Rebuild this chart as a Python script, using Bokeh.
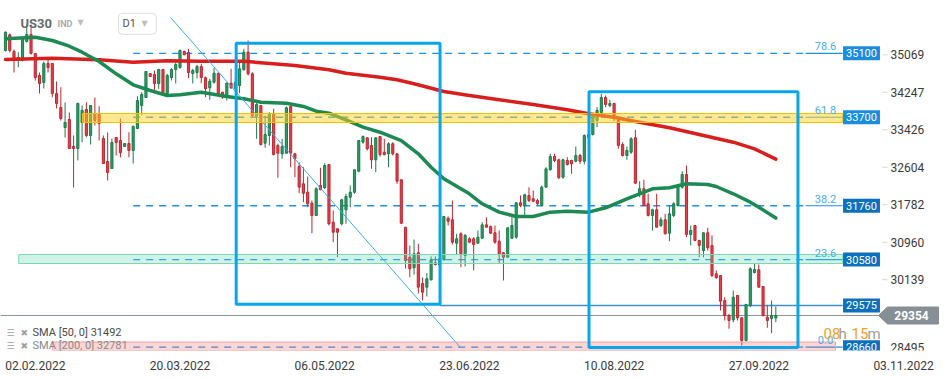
import numpy as np
from bokeh.plotting import figure
from bokeh.models import Range1d, FixedTicker, Label, ColumnDataSource
from bokeh.embed import file_html
from bokeh.resources import INLINE

# ---------------- data ----------------
opens = [35163, 35507, 35141, 34944, 34944, 35360, 35514, 35097, 34615, 34462,
         34878, 34878, 34220, 33914, 33475, 33650, 33059, 33015, 33585, 33870,
         33300, 33782, 33760, 33234, 32730, 32576, 33256, 33190, 33059, 33124,
         32971, 33453, 33957, 34133, 34659, 34637, 34440, 34747, 34220, 34571,
         34747, 34790, 35141, 35119, 34659, 34681, 34812, 34565, 34345, 34468,
         34665, 34249, 34139, 34446, 34330, 34396, 34740, 35126, 34652, 33716,
         33957, 33131, 33300, 33760, 33081, 32899, 32912, 33935, 32899, 32620,
         32241, 32057, 31816, 31546, 32204, 32153, 32664, 31399, 31255, 31364,
         31671, 31947, 32057, 32517, 33153, 33249, 33081, 32767, 33278, 32934,
         32899, 33118, 32899, 32329, 31290, 30632, 30400, 30729, 30056, 29975,
         30137, 30509, 30460, 30575, 31487, 31452, 30939, 31145, 30669, 31035,
         31035, 30939, 31049, 31342, 31305, 31167, 30983, 30729, 30632, 31049,
         31071, 31825, 31765, 31985, 31912, 31875, 31765, 32167, 32548, 32839,
         32767, 32386, 32752, 32752, 32736, 32861, 32736, 33256, 33322, 33629,
         33804, 34133, 33957, 34001, 33629, 33102, 32861, 32934, 33249, 32022,
         32132, 31803, 31546, 31671, 31327, 31452, 31158, 31546, 31765, 32167,
         32445, 31130, 31327, 30998, 30779, 31167, 30889, 30268, 30231, 29683,
         29354, 29260, 29793, 29304, 28806, 29573, 30297, 30356, 29990, 29317,
         29288, 29299]
highs = [35580, 35536, 35185, 35126, 35455, 35733, 35733, 35097, 34681, 34922,
         34988, 34878, 34483, 34358, 34023, 33804, 33300, 34023, 33957, 34030,
         33957, 34133, 33942, 33300, 33366, 33234, 33262, 33672, 33124, 33372,
         33519, 34161, 34249, 34703, 34659, 34725, 34762, 34762, 34652, 34775,
         34900, 35185, 35163, 35200, 34762, 34849, 34871, 34593, 34543, 34784,
         34665, 34249, 34468, 34762, 34549, 34907, 35200, 35382, 34687, 34030,
         33957, 33738, 33811, 33885, 33118, 33227, 33935, 33935, 32912, 32714,
         32605, 32401, 31875, 32167, 32592, 32693, 32664, 31656, 31255, 31912,
         32022, 32204, 32548, 33190, 33300, 33262, 33262, 33262, 33278, 33227,
         33153, 33153, 32899, 32329, 31290, 30889, 31020, 30926, 30187, 30281,
         30648, 30648, 30680, 31524, 31524, 31875, 31145, 31180, 31145, 31071,
         31071, 31217, 31399, 31509, 31327, 31327, 31217, 30742, 31277, 31509,
         31838, 31985, 32022, 32167, 32094, 31912, 32204, 32605, 32899, 32899,
         32789, 32789, 32824, 32767, 33059, 32899, 33322, 33409, 33760, 33920,
         34214, 34177, 34082, 34008, 33666, 33153, 33059, 33262, 33425, 32298,
         32329, 32022, 31693, 32022, 31509, 31583, 31765, 31838, 32204, 32517,
         32642, 31327, 31327, 31013, 31180, 31277, 31108, 30341, 30231, 29755,
         29391, 29902, 29793, 29310, 29611, 30413, 30494, 30472, 29990, 29573,
         29683, 29551]
lows = [35140, 35119, 34681, 34797, 34922, 35338, 35075, 34505, 34220, 34330,
        34681, 34139, 33892, 33629, 33256, 33008, 32160, 32752, 33153, 33262,
        33102, 33519, 33190, 32686, 32313, 32576, 32861, 32818, 33059, 32824,
        32686, 33447, 33738, 34133, 34593, 34286, 34323, 34214, 34177, 34505,
        34440, 34762, 35053, 34556, 34440, 34550, 34446, 34139, 34082, 34433,
        34177, 34104, 34067, 34323, 34242, 34227, 34725, 34615, 33701, 33227,
        33081, 33030, 33081, 32861, 32373, 32789, 32899, 32605, 32386, 32035,
        31838, 31728, 31158, 31546, 32109, 32132, 31327, 30961, 30632, 31327,
        31364, 31728, 32022, 32495, 33118, 32971, 32570, 32495, 32839, 32861,
        32605, 32861, 32241, 31364, 30384, 30194, 30250, 29836, 29683, 29771,
        30121, 30450, 30400, 30560, 31327, 30911, 30691, 30413, 30428, 30939,
        30341, 30926, 31035, 31290, 31145, 30926, 30501, 30121, 30632, 31035,
        31035, 31728, 31546, 31838, 31838, 31765, 31765, 32167, 32533, 32714,
        32351, 32351, 32642, 32460, 32714, 32679, 32664, 33190, 33300, 33482,
        33782, 33920, 33920, 33613, 33008, 32839, 32767, 32899, 32241, 31947,
        31765, 31524, 31217, 31290, 31290, 31130, 30983, 31509, 31743, 32132,
        31071, 30889, 30983, 30632, 30632, 30779, 30194, 30159, 29464, 29245,
        29063, 29207, 29245, 28697, 28784, 29536, 30275, 29975, 29332, 29085,
        28966, 29207]
closes = [35564, 35163, 34944, 35010, 35426, 35514, 35097, 34571, 34440, 34878,
          34790, 34220, 34001, 33672, 33585, 33015, 33015, 34001, 33848, 33300,
          33957, 33629, 33563, 32686, 32489, 33146, 33146, 32927, 33124, 32971,
          33497, 34067, 34199, 34703, 34593, 34440, 34747, 34242, 34615, 34747,
          34856, 35163, 35075, 34681, 34725, 34812, 34571, 34323, 34490, 34665,
          34214, 34139, 34446, 34345, 34462, 34762, 35126, 34652, 33738, 33979,
          33102, 33322, 33760, 32883, 32912, 33059, 33907, 32912, 32789, 32167,
          32035, 31803, 31546, 32132, 32109, 32642, 31364, 31180, 31180, 31890,
          31963, 32057, 32548, 33190, 33278, 33008, 32767, 33249, 32883, 32883,
          33118, 32899, 32298, 31377, 30560, 30378, 30707, 29975, 29865, 30159,
          30575, 30472, 30600, 31524, 31421, 30961, 31035, 30707, 31108, 30961,
          30911, 31071, 31342, 31290, 31158, 30961, 30691, 30632, 31277, 31327,
          31825, 31765, 32000, 31875, 31860, 31803, 32167, 32570, 32839, 32752,
          32373, 32767, 32664, 32679, 32861, 32736, 33300, 33322, 33738, 33848,
          34133, 33979, 34001, 33666, 33081, 32861, 32971, 33227, 32254, 32132,
          31765, 31546, 31671, 31290, 31452, 31145, 31583, 31803, 32182, 32445,
          31130, 31217, 30998, 30889, 31167, 30838, 30231, 30181, 29668, 29354,
          29245, 29755, 29304, 28806, 29595, 30378, 30363, 29975, 29354, 29245,
          29354, 29354]

sma50_idx = [0, 7, 11, 15, 18, 22, 26, 30, 34, 38, 41, 46, 52, 56, 60, 66, 70, 73,
             76, 80, 84, 88, 93, 97, 100, 103, 109, 112, 116, 120, 124, 128, 132,
             137, 141, 146, 152, 156, 160, 165, 167, 171, 175, 177, 181]
sma50_val = [35420, 35455, 35382, 35257, 35126, 34922, 34652, 34411, 34286, 34177,
             34192, 34249, 34155, 34104, 34030, 34008, 33936, 33832, 33789, 33644,
             33482, 33372, 33190, 32898, 32605, 32351, 32022, 31803, 31619, 31524,
             31524, 31619, 31641, 31619, 31715, 31912, 32132, 32153, 32241, 32226,
             32182, 32022, 31838, 31728, 31492]
sma200_idx = [0, 11, 22, 30, 38, 46, 56, 60, 68, 76, 80, 88, 92, 96, 103, 109, 116,
              124, 132, 137, 143, 148, 156, 163, 171, 176, 181]
sma200_val = [34966, 34994, 34959, 34907, 34937, 34928, 34928, 34893, 34834, 34740,
              34665, 34578, 34521, 34433, 34264, 34177, 34082, 33979, 33863, 33775,
              33701, 33607, 33469, 33322, 33153, 33008, 32781]

date_labels = ["02.02.2022", "20.03.2022", "06.05.2022", "23.06.2022",
               "10.08.2022", "27.09.2022", "03.11.2022"]
date_ticks = [7, 41, 75, 109, 143, 177, 211]

price_ticks = [35069, 34247, 33426, 32604, 31782, 30960, 30139]
bottom_tick = 28495

fib_prices = [35100, 33700, 31760, 30580, 28660]
fib_ratios = ["78.6", "61.8", "38.2", "23.6", "0.0"]
fib_start, fib_dash_end, level_end = 30, 188, 196.7

level_line = 29575
last_price = 29354
sma50_last, sma200_last = 31492, 32781

zone_lo = [33585, 30494, 28587]
zone_hi = [33782, 30691, 28773]
zone_start = [18.1, 3.1, 11.0]
zone_end = [196.7, 196.7, 195.0]

box_left = [54.2, 137.1]
box_right = [102.1, 186.2]
box_top = [35321, 34258]
box_bottom = [29600, 28653]

trend_x = [38.8, 106.9]
trend_y = [35886, 28653]

# ---------------- layout helpers (screen px -> data) ----------------
PX0, PXS = 5.0, 4.256
P_TOP, P_PX = 36259.0, 21.92
W, H, FRAME_H = 949, 378, 350


def xi(px):
    return (px - PX0) / PXS


def yp(py):
    return P_TOP - P_PX * py


GREEN, GREEN_L = "#2E9D68", "#1B7A4A"
RED, RED_L = "#E6414B", "#BE2630"
BLUE_BOX = "#07A6EF"
FIB = "#1E8FEA"

p = figure(width=W, height=H, output_backend="svg", toolbar_location=None,
           x_range=Range1d(xi(0), xi(W)), y_range=Range1d(yp(FRAME_H), yp(0)),
           y_axis_location=None, min_border=0, min_border_bottom=H - FRAME_H)
p.outline_line_color = None
p.grid.visible = False
p.background_fill_color = "white"
p.border_fill_color = "white"

ax = p.xaxis[0]
ax.ticker = FixedTicker(ticks=date_ticks)
ax.major_label_overrides = {t: s for t, s in zip(date_ticks, date_labels)}
ax.axis_line_color = None
ax.major_tick_line_color = None
ax.minor_tick_line_color = None
ax.major_label_standoff = 4
ax.major_label_text_font = "Roboto"
ax.major_label_text_font_size = "12px"
ax.major_label_text_color = "#3a3a3a"

# fib lines
for fp in fib_prices:
    p.segment(x0=fib_start, y0=fp, x1=fib_dash_end, y1=fp, line_color=FIB,
              line_width=1.3, line_dash="7 6")
    p.segment(x0=fib_dash_end, y0=fp, x1=level_end, y1=fp, line_color=FIB,
              line_width=1.2)

# last price and 29575 lines
p.segment(x0=xi(0), y0=last_price, x1=xi(879), y1=last_price,
          line_color="#8C959A", line_width=1)
p.segment(x0=box_right[0], y0=level_line, x1=level_end, y1=level_line,
          line_color="#3C8FD2", line_width=1.5)

# candles
o = np.array(opens); c = np.array(closes); h = np.array(highs); l = np.array(lows)
idx = np.arange(len(o))
for mask, fc, lc in [(c >= o, GREEN, GREEN_L), (c < o, RED, RED_L)]:
    src = ColumnDataSource(dict(x=idx[mask], top=np.maximum(o, c)[mask],
                                bottom=np.minimum(o, c)[mask], h=h[mask], l=l[mask]))
    p.segment(x0="x", y0="h", x1="x", y1="l", source=src, line_color=lc, line_width=1)
    p.vbar(x="x", width=0.5, top="top", bottom="bottom", source=src,
           fill_color=fc, line_color=lc, line_width=1)

# moving averages
p.line(sma200_idx, sma200_val, line_color="#D91E1E", line_width=3.5,
       line_join="round", line_cap="round")
p.line(sma50_idx, sma50_val, line_color="#1C8A52", line_width=3.5,
       line_join="round", line_cap="round")

# trend line
p.line(trend_x, trend_y, line_color="#35AEEB", line_width=1)

# zones (semi-transparent, above candles)
zone_fill = ["#FFD21F", "#5FD9AE", "#EE6B6B"]
zone_fa = [0.5, 0.3, 0.28]
zone_line = ["#F2C200", "#7FD6B4", "#F2A0A0"]
for i in range(3):
    p.quad(left=zone_start[i], right=zone_end[i], bottom=zone_lo[i], top=zone_hi[i],
           fill_color=zone_fill[i], fill_alpha=zone_fa[i], line_color=zone_line[i],
           line_width=1)

# blue boxes
p.quad(left=box_left, right=box_right, top=box_top, bottom=box_bottom,
       fill_color=None, line_color=BLUE_BOX, line_width=3)

# right price scale
for t in price_ticks:
    p.segment(x0=xi(882), y0=t, x1=xi(887), y1=t, line_color="#d5d5d5", line_width=1)
    p.add_layout(Label(x=xi(890), y=t, text=str(t), text_align="left",
                       text_baseline="middle", text_font="Roboto",
                       text_font_size="12px", text_color="#3a3a3a"))
p.add_layout(Label(x=xi(890), y=bottom_tick, y_offset=7, text=str(bottom_tick),
                   text_align="left", text_baseline="middle", text_font="Roboto",
                   text_font_size="12px", text_color="#3a3a3a"))

# level boxes
levels = fib_prices[:4] + [level_line] + fib_prices[4:]
level_cols = ["#1A8DE2", "#1A8DE2", "#0C70BF", "#0C70BF", "#0C70BF", "#0C70BF"]
for lv, col in zip(levels, level_cols):
    p.add_layout(Label(x=xi(861), y=lv, text=str(lv), text_align="center",
                       text_baseline="middle", text_font="Roboto",
                       text_font_size="11px", text_color="white",
                       background_fill_color=col, padding=3))

# fib ratio texts
for fp, r in zip(fib_prices, fib_ratios):
    p.add_layout(Label(x=xi(825), y=fp, y_offset=3, text=r, text_align="center",
                       text_baseline="bottom", text_font="Roboto",
                       text_font_size="11px", text_color="#45AEF0"))

# current price tag
gx = [xi(878), xi(887), xi(938), xi(938), xi(887)]
gy = [last_price, last_price + 8.5 * P_PX, last_price + 8.5 * P_PX,
      last_price - 8.5 * P_PX, last_price - 8.5 * P_PX]
p.patch(gx, gy, fill_color="#858F94", line_color="#858F94")
p.add_layout(Label(x=xi(911), y=last_price, text=str(last_price), text_align="center",
                   text_baseline="middle", text_font="Roboto", text_font_size="12px",
                   text_font_style="bold", text_color="white"))

# countdown
for px, txt, col in [(823, "08", "#F5A11E"), (838, "h", "#9E9E9E"),
                     (851, "15", "#F5A11E"), (867, "m", "#9E9E9E")]:
    p.add_layout(Label(x=xi(px), y=yp(333), text=txt, text_align="left",
                       text_baseline="middle", text_font="Roboto",
                       text_font_size="15px", text_color=col))

# SMA legend
for py, txt, col in [(332, f"SMA [50,  0] {sma50_last}", "#4a4a4a"),
                     (345, f"SMA [200,  0] {sma200_last}", "#8a8a8a")]:
    p.add_layout(Label(x=xi(6), y=yp(py), text="\u2630", text_align="left",
                       text_baseline="middle", text_font="DejaVu Sans",
                       text_font_size="9px", text_color="#a0a0a0"))
    p.add_layout(Label(x=xi(20), y=yp(py), text="\u2716", text_align="left",
                       text_baseline="middle", text_font="DejaVu Sans",
                       text_font_size="9px", text_color="#a0a0a0"))
    p.add_layout(Label(x=xi(32), y=yp(py), text=txt, text_align="left",
                       text_baseline="middle", text_font="Roboto",
                       text_font_size="11px", text_color=col))

# header
p.add_layout(Label(x=xi(20), y=yp(23), text="US30", text_align="left",
                   text_baseline="middle", text_font="Roboto", text_font_size="13px",
                   text_font_style="bold", text_color="#6a6a6a"))
p.add_layout(Label(x=xi(57), y=yp(23.5), text="IND", text_align="left",
                   text_baseline="middle", text_font="Roboto", text_font_size="9px",
                   text_font_style="bold", text_color="#ababab"))
p.add_layout(Label(x=xi(77), y=yp(21.5), text="\u25BC", text_align="left",
                   text_baseline="middle", text_font="DejaVu Sans",
                   text_font_size="8px", text_color="#bdbdbd"))
p.add_layout(Label(x=xi(118), y=yp(23.3), text="D1      ", text_align="left",
                   text_baseline="middle", text_font="Roboto", text_font_size="11px",
                   text_color="#555555", background_fill_color="white",
                   border_line_color="#dddddd", border_radius=4, padding=4))
p.add_layout(Label(x=xi(141), y=yp(22.5), text="\u25BC", text_align="left",
                   text_baseline="middle", text_font="DejaVu Sans",
                   text_font_size="8px", text_color="#bdbdbd"))

open("out.html", "w").write(file_html(p, INLINE))
